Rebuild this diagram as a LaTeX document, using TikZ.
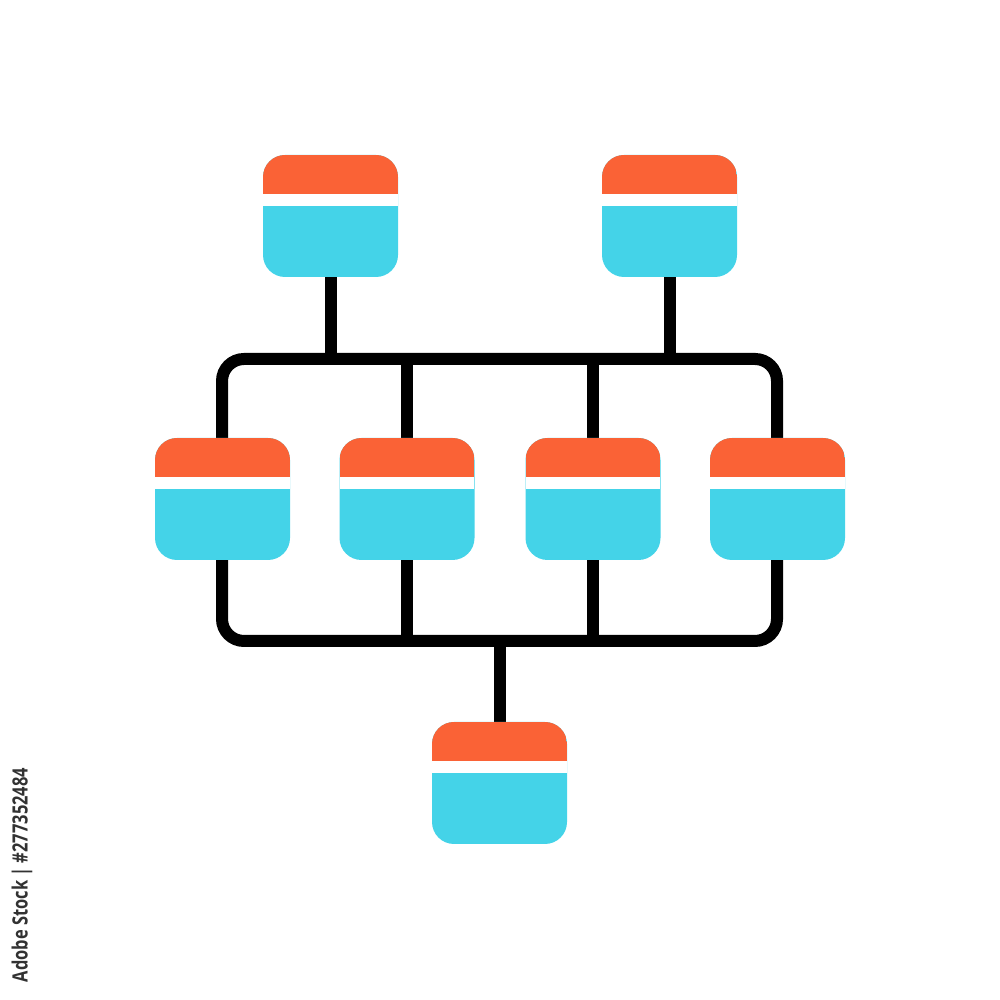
\documentclass[tikz,border=0pt]{standalone}
\usepackage{fontspec}
\usetikzlibrary{backgrounds}
\newfontfamily\stockfont{Open Sans}
\definecolor{boxtop}{RGB}{250,98,54}
\definecolor{boxbody}{RGB}{68,211,232}
\definecolor{stockgray}{RGB}{50,50,50}
\tikzset{
  unitbox/.style={shape=rectangle,fill=boxbody,rounded corners=0.22cm,
    minimum width=1.35cm,minimum height=1.22cm,inner sep=0pt,outer sep=0pt,
    path picture={
      \fill[boxtop,sharp corners] (path picture bounding box.north west) rectangle ([yshift=-0.39cm]path picture bounding box.north east);
      \fill[white,sharp corners] ([yshift=-0.39cm]path picture bounding box.north west) rectangle ([yshift=-0.51cm]path picture bounding box.north east);
    }},
  wire/.style={draw=black,line width=0.12cm}
}

\begin{document}
\begin{tikzpicture}
\useasboundingbox (0,0) rectangle (10,10);

% frame corners
\coordinate (FT) at (2.22,6.41);
\coordinate (FB) at (7.77,3.59);

\node[unitbox] (T1) at (3.305,7.84) {};
\node[unitbox] (T2) at (6.695,7.84) {};
\node[unitbox] (M1) at (2.225,5.01) {};
\node[unitbox] (M2) at (4.07,5.01) {};
\node[unitbox] (M3) at (5.93,5.01) {};
\node[unitbox] (M4) at (7.775,5.01) {};
\node[unitbox] (B) at (4.995,2.17) {};

\begin{scope}[on background layer]
\path[wire,rounded corners=0.22cm] (FT) rectangle (FB);
\path[wire] (M2 |- FT) -- (M2 |- FB);
\path[wire] (M3 |- FT) -- (M3 |- FB);
\path[wire] (T1.south) -- (T1.south |- FT);
\path[wire] (T2.south) -- (T2.south |- FT);
\path[wire] (B.north) -- (B.north |- FB);
\end{scope}

\node[rotate=90,text=stockgray,font=\stockfont\bfseries\fontsize{6}{7}\selectfont,inner sep=0pt] (ID) at (0.22,1.25) {\scalebox{0.78}[1]{Adobe Stock | \#277352484}};
\end{tikzpicture}
\end{document}
